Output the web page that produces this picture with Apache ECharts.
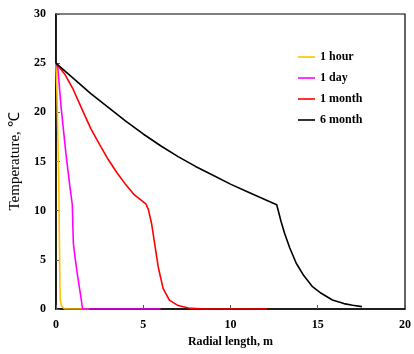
<!DOCTYPE html>
<html>
<head>
<meta charset="utf-8">
<script src="https://cdn.jsdelivr.net/npm/echarts@6/dist/echarts.min.js"></script>
<style>
html, body { margin: 0; padding: 0; background: #fff; }
#chart { width: 414px; height: 354px; }
</style>
</head>
<body>
<div id="chart"></div>
<script>
var byId = function(id){
	return document.getElementById(id);
};

// [radial length m, temperature C]
var hourData = [[0,25],[0.06,22],[0.12,17],[0.17,12],[0.2,7],[0.23,2.5],[0.25,1],[0.32,0.3],[0.5,0],[1.9,0]];
var dayData = [[0,25],[0.11,24.5],[0.3,20.5],[0.58,15.7],[0.8,12.5],[0.94,10.6],[0.97,8.5],[1.0,6.7],
	[1.1,5.2],[1.25,3.3],[1.4,1.6],[1.53,0],[6,0]];
var monthData = [[0,25],[0.5,23.9],[1,22.3],[1.5,20.3],[2,18.35],[2.5,16.75],[3,15.2],[3.5,13.85],[4,12.65],[4.5,11.6],[5.15,10.7],
	[5.3,10.1],[5.48,8.7],[5.86,4.3],[6.14,2.1],[6.5,0.9],[7,0.35],[7.6,0.1],[8.5,0],[12.1,0]];
var sixMonthData = [[0,25],[1,23.45],[2,21.9],[3,20.5],[4,19.1],[5,17.8],[6,16.6],[7,15.5],[8,14.5],[9,13.6],[10,12.7],[11,11.9],[12,11.1],[12.65,10.6],
	[12.9,8.9],[13.1,7.7],[13.4,6.2],[13.77,4.65],[14.2,3.4],[14.7,2.27],[15.2,1.6],[15.84,0.92],[16.5,0.55],[17,0.38],[17.53,0.24]];

var seriesNames = ['1 hour', '1 day', '1 month', '6 month'];
var seriesColors = ['#FFC000', '#FF00FF', '#FF0000', '#000000'];
var seriesData = [hourData, dayData, monthData, sixMonthData];

var xTicks = { min: 0, max: 20, interval: 5 };
var yTicks = { min: 0, max: 30, interval: 5 };

var serif = "'Times New Roman', 'Liberation Serif', serif";

var chartOption = {
		animation: false,
		grid: {
			left: 53,
			right: 7,
			top: 14,
			bottom: 45,
			show: true,
			borderColor: '#000',
			borderWidth: 1.2
		},
		legend: {
			orient: 'vertical',
			left: 298,
			top: 50,
			padding: 0,
			icon: 'rect',
			itemWidth: 17,
			itemHeight: 1.6,
			itemGap: 7,
			data: seriesNames,
			textStyle: {
				fontFamily: serif,
				fontWeight: 'bold',
				fontSize: 12,
				lineHeight: 14,
				color: '#000'
			}
		},
		xAxis: [{
			type: 'value',
			min: xTicks.min,
			max: xTicks.max,
			interval: xTicks.interval,
			name: 'Radial length, m',
			nameLocation: 'middle',
			nameGap: 27,
			nameTextStyle: { fontFamily: serif, fontWeight: 'bold', fontSize: 12, color: '#000' },
			axisLine: { lineStyle: { color: '#000', width: 1.5 } },
			axisTick: { inside: true, length: 4, lineStyle: { color: '#555' } },
			axisLabel: { margin: 10, fontFamily: serif, fontWeight: 'bold', fontSize: 12, color: '#000' },
			splitLine: { show: false }
		}],
		yAxis: [{
			type: 'value',
			min: yTicks.min,
			max: yTicks.max,
			interval: yTicks.interval,
			name: 'Temperature, \u2103',
			nameLocation: 'middle',
			nameGap: 32,
			nameTextStyle: { fontFamily: serif, fontSize: 15, color: '#000' },
			axisLine: { show: true, lineStyle: { color: '#000', width: 1.5 } },
			axisTick: { show: true, inside: true, length: 4, lineStyle: { color: '#555' } },
			axisLabel: { margin: 10, fontFamily: serif, fontWeight: 'bold', fontSize: 12, color: '#000' },
			splitLine: { show: false }
		}],
		series: seriesNames.map(function(name, i){
			return {
				name: name,
				type: 'line',
				symbol: 'none',
				smooth: false,
				data: seriesData[i],
				z: 2 + i,
				lineStyle: { color: seriesColors[i], width: 1.6 },
				itemStyle: { color: seriesColors[i] }
			};
		})
	};

var lineChart = echarts.init(byId('chart'));
lineChart.setOption(chartOption);
</script>
</body>
</html>
